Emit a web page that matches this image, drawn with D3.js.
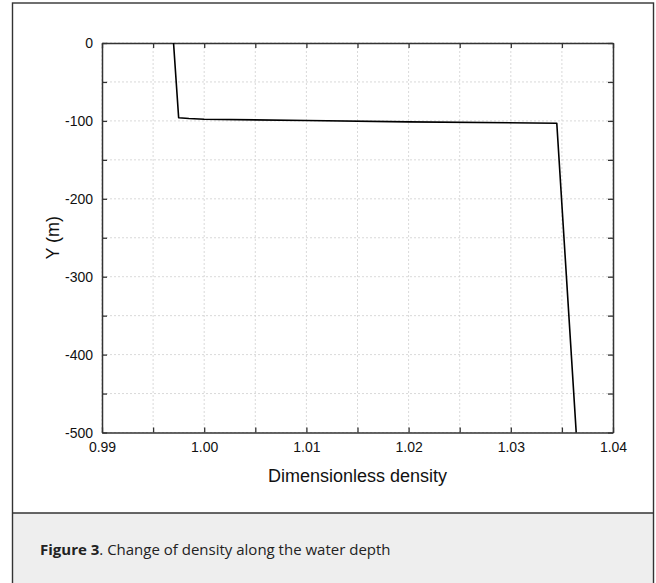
<!DOCTYPE html>
<html><head><meta charset="utf-8">
<script src="https://cdn.jsdelivr.net/npm/d3@7"></script>
<style>
html,body{margin:0;padding:0;background:#fff;}
svg{display:block;}
</style></head>
<body>
<svg id="chart" width="656" height="583"></svg>
<script>
// Data
const density = [0.9970, 0.9975, 0.9985, 1.0000, 1.0100, 1.0200, 1.0345, 1.0364];
const depth   = [0,      -96,    -97.0,  -97.8,  -99.5,  -101.2, -103,   -500];
const xTicks = [0.99, 1.00, 1.01, 1.02, 1.03, 1.04];
const xMinor = [0.995, 1.005, 1.015, 1.025, 1.035];
const yTicks = [0, -100, -200, -300, -400, -500];
const yMinor = [-50, -150, -250, -350, -450];
const xTitle = "Dimensionless density";
const yTitle = "Y (m)";
const captionBold = "Figure 3";
const captionRest = ". Change of density along the water depth";

const svg = d3.select("#chart");
const L = 102, R = 613, T = 43, B = 432.5;
const x = d3.scaleLinear().domain([0.99, 1.04]).range([L, R]);
const y = d3.scaleLinear().domain([-500, 0]).range([B, T]);

// outer frame and caption box
svg.append("rect").attr("x", 13).attr("y", 513).attr("width", 640).attr("height", 75)
  .attr("fill", "#eeeeee");
svg.append("rect").attr("x", 12.5).attr("y", 3).attr("width", 641).attr("height", 600)
  .attr("fill", "none").attr("stroke", "#333").attr("stroke-width", 1.4);
svg.append("line").attr("x1", 12.5).attr("x2", 653.5).attr("y1", 513).attr("y2", 513)
  .attr("stroke", "#333").attr("stroke-width", 1.4);

// grid
const grid = svg.append("g");
xTicks.concat(xMinor).forEach(v => {
  grid.append("line").attr("x1", x(v)).attr("x2", x(v)).attr("y1", T).attr("y2", B)
    .attr("stroke", "#cfcfcf").attr("stroke-width", 0.8).attr("stroke-dasharray", "2,2");
});
yTicks.concat(yMinor).forEach(v => {
  grid.append("line").attr("x1", L).attr("x2", R).attr("y1", y(v)).attr("y2", y(v))
    .attr("stroke", "#cfcfcf").attr("stroke-width", 0.8).attr("stroke-dasharray", "2,2");
});

// axes with inward ticks
const tickLen = 5;
const allX = xTicks.concat(xMinor), allY = yTicks.concat(yMinor);
const font = "'Liberation Sans', Arial, sans-serif";

const gB = svg.append("g").attr("transform", `translate(0,${B})`)
  .call(d3.axisBottom(x).tickValues(allX).tickSize(-tickLen).tickSizeOuter(0)
    .tickFormat(d => xTicks.some(t => Math.abs(t - d) < 1e-9) ? d3.format(".2f")(d) : ""));
const gT = svg.append("g").attr("transform", `translate(0,${T})`)
  .call(d3.axisTop(x).tickValues(allX).tickSize(-tickLen).tickSizeOuter(0).tickFormat(""));
const gL = svg.append("g").attr("transform", `translate(${L},0)`)
  .call(d3.axisLeft(y).tickValues(allY).tickSize(-tickLen).tickSizeOuter(0)
    .tickFormat(d => yTicks.includes(d) ? String(d) : ""));
const gR = svg.append("g").attr("transform", `translate(${R},0)`)
  .call(d3.axisRight(y).tickValues(allY).tickSize(-tickLen).tickSizeOuter(0).tickFormat(""));

[gB, gT, gL, gR].forEach(g => {
  g.attr("font-size", 14).attr("font-family", font);
  g.select(".domain").attr("stroke", "#333").attr("stroke-width", 1.5);
  g.selectAll(".tick line").attr("stroke", "#333").attr("stroke-width", 1.3);
  g.selectAll(".tick text").attr("fill", "#111").attr("font-size", 14).attr("font-family", font);
});
gB.selectAll(".tick text").attr("dy", "0").attr("y", 19);
gL.selectAll(".tick text").attr("x", -9).attr("dy", "0.35em");

// data line
const pts = density.map((d, i) => [d, depth[i]]);
svg.append("path").datum(pts)
  .attr("fill", "none").attr("stroke", "#000").attr("stroke-width", 1.6)
  .attr("stroke-linejoin", "round")
  .attr("d", d3.line().x(d => x(d[0])).y(d => y(d[1])));

// titles
svg.append("text").attr("x", (L + R) / 2).attr("y", 482).attr("text-anchor", "middle")
  .attr("font-family", font).attr("font-size", 18).attr("fill", "#111").text(xTitle);
svg.append("text").attr("transform", `translate(59,${(T + B) / 2}) rotate(-90)`)
  .attr("text-anchor", "middle")
  .attr("font-family", font).attr("font-size", 18).attr("fill", "#111").text(yTitle);

// caption
const cap = svg.append("text").attr("x", 40).attr("y", 555)
  .attr("font-family", "'Open Sans', 'Noto Sans', sans-serif").attr("font-size", 15).attr("fill", "#222");
cap.append("tspan").attr("font-weight", "bold").text(captionBold);
cap.append("tspan").text(captionRest);
</script>
</body></html>
